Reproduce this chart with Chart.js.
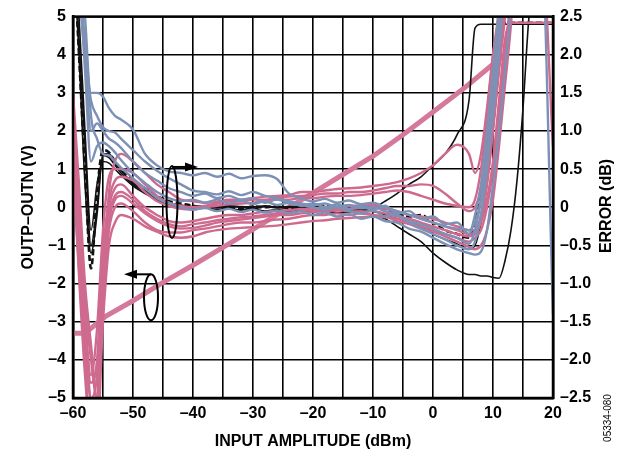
<!DOCTYPE html>
<html>
<head>
<meta charset="utf-8">
<script src="https://cdn.jsdelivr.net/npm/chart.js@4.4.1/dist/chart.umd.min.js"></script>
<style>
  html, body { margin: 0; padding: 0; background: #fff; }
  canvas { display: block; }
</style>
</head>
<body>
<canvas id="chart" width="636" height="456"></canvas>
<script>
// ==================== DATA ====================

// input amplitude grid shared by the error curves (dBm)
const dBm = [-60, -59, -58, -57, -56, -55, -54, -53, -52, -50,
             -48, -46, -44, -42, -40, -38, -36, -34, -32, -30,
             -28, -26, -24, -22, -20, -18, -16, -14, -12, -10,
             -8, -6, -4, -2, 0, 2, 4, 6, 7, 8,
             9, 10, 11, 12, 13, 14, 15, 16, 18, 20];

// error curves (dB), right axis
const blueA = [3.5, 3.0, 2.2, 1.5, 1.5, 1.45, 1.3, 1.2, 1.15, 1.02,
               0.7, 0.55, 0.47, 0.45, 0.42, 0.45, 0.4, 0.44, 0.38, 0.41,
               0.42, 0.37, 0.18, 0.12, 0.08, 0.11, 0.06, 0.09, 0.04, 0.06,
               0.0, -0.05, -0.1, -0.15, -0.2, -0.25, -0.28, -0.3, -0.2, 0.1,
               0.6, 1.2, 2.0, 3.0, 3.5, 3.5, 3.5, 3.5, 3.5, 3.5];
const blueB = [3.5, 2.8, 2.0, 1.4, 1.2, 1.05, 1.0, 0.98, 0.9, 0.75,
               0.6, 0.48, 0.38, 0.3, 0.22, 0.2, 0.17, 0.21, 0.16, 0.2,
               0.15, 0.12, 0.08, 0.05, 0.03, 0.05, 0.01, 0.03, -0.01, 0.0,
               -0.05, -0.1, -0.2, -0.28, -0.35, -0.42, -0.5, -0.55, -0.45, -0.1,
               0.5, 1.3, 2.2, 3.0, 3.5, 3.5, 3.5, 3.5, 3.5, -1.4];
const blueC = [3.5, 3.0, 1.8, 0.6, 0.8, 0.85, 0.8, 0.72, 0.62, 0.45,
               0.32, 0.2, 0.12, 0.08, 0.1, 0.06, 0.1, 0.05, 0.09, 0.04,
               0.08, 0.03, 0.06, 0.02, 0.05, 0.0, 0.04, -0.02, 0.02, -0.03,
               0.02, -0.08, -0.05, -0.15, -0.12, -0.22, -0.2, -0.35, -0.1, 0.3,
               1.0, 1.8, 2.6, 3.5, 3.5, 3.5, 3.5, 3.5, 3.5, 3.5];
const blueD = [3.5, 3.2, 2.5, 1.2, 0.9, 0.7, 0.68, 0.6, 0.52, 0.38,
               0.25, 0.12, 0.05, 0.0, -0.03, -0.01, -0.05, -0.02, -0.06, -0.03,
               -0.07, -0.04, -0.08, -0.05, -0.1, -0.07, -0.12, -0.09, -0.15, -0.12,
               -0.18, -0.2, -0.28, -0.32, -0.4, -0.48, -0.55, -0.6, -0.62, -0.58,
               -0.3, 0.3, 1.0, 1.8, 2.6, 3.5, 3.5, 3.5, 3.5, 3.5];
const blueE = [3.5, 3.0, 2.0, 1.0, 1.1, 1.0, 0.9, 0.85, 0.78, 0.6,
               0.45, 0.35, 0.25, 0.2, 0.15, 0.18, 0.12, 0.15, 0.1, 0.12,
               0.06, 0.1, 0.05, 0.03, 0.0, -0.03, 0.0, -0.05, -0.08, -0.04,
               -0.12, -0.1, -0.18, -0.22, -0.28, -0.35, -0.4, -0.48, -0.3, 0.1,
               0.7, 1.5, 2.3, 3.5, 3.5, 3.5, 3.5, 3.5, 3.5, 3.5];

const pinkA = [1.3, 0.0, -1.2, -2.0, -2.5, -1.0, 0.2, 0.6, 0.7, 0.6,
               0.45, 0.3, 0.2, 0.1, 0.08, 0.06, 0.07, 0.1, 0.1, 0.12,
               0.14, 0.15, 0.16, 0.2, 0.2, 0.22, 0.24, 0.25, 0.26, 0.28,
               0.3, 0.33, 0.38, 0.45, 0.55, 0.7, 0.82, 0.7, 0.45, 0.7,
               1.3, 2.0, 2.6, 3.5, 3.5, 3.5, 3.5, 3.5, 3.5, 3.5];
const pinkB = [1.0, -0.2, -1.5, -2.3, -2.0, -0.6, 0.1, 0.35, 0.4, 0.35,
               0.2, 0.08, 0.02, -0.02, -0.03, 0.0, 0.02, 0.04, 0.05, 0.06,
               0.08, 0.1, 0.1, 0.12, 0.12, 0.14, 0.15, 0.15, 0.16, 0.18,
               0.2, 0.22, 0.2, 0.15, 0.1, 0.05, 0.02, 0.0, 0.1, 0.5,
               1.2, 2.0, 2.5, 3.5, 3.5, 3.5, 3.5, 3.5, 3.5, 0.8];
const pinkC = [0.5, -0.8, -2.0, -3.0, -3.0, -1.5, -0.5, -0.2, -0.1, -0.15,
               -0.25, -0.32, -0.38, -0.4, -0.38, -0.33, -0.3, -0.28, -0.27, -0.26,
               -0.25, -0.24, -0.22, -0.2, -0.18, -0.17, -0.15, -0.14, -0.13, -0.12,
               -0.13, -0.15, -0.2, -0.25, -0.3, -0.35, -0.4, -0.45, -0.4, -0.3,
               0.0, 0.5, 1.2, 2.0, 2.8, 3.5, 3.5, 3.5, 3.5, 3.5];
const pinkD = [0.8, -0.5, -1.8, -2.5, -2.2, -0.8, 0.0, 0.25, 0.3, 0.15,
               0.0, -0.1, -0.18, -0.2, -0.18, -0.15, -0.12, -0.1, -0.1, -0.08,
               -0.06, -0.05, -0.04, -0.02, -0.02, 0.0, 0.0, 0.02, 0.02, 0.03,
               0.0, -0.05, -0.1, -0.12, -0.15, -0.2, -0.25, -0.3, -0.3, -0.15,
               0.3, 1.0, 1.8, 2.5, 3.5, 3.5, 3.5, 3.5, 3.5, 3.5];
const pinkE = [1.5, 0.3, -1.0, -1.8, -2.5, -1.2, -0.2, 0.1, 0.15, 0.05,
               -0.08, -0.18, -0.25, -0.28, -0.27, -0.24, -0.2, -0.18, -0.16, -0.14,
               -0.12, -0.1, -0.1, -0.08, -0.06, -0.05, -0.04, -0.05, -0.06, -0.05,
               -0.08, -0.12, -0.15, -0.2, -0.25, -0.3, -0.35, -0.38, -0.35, -0.2,
               0.1, 0.6, 1.4, 2.2, 2.42, 2.42, 2.42, 2.42, 2.42, 2.42];
const pinkF = [1.0, -0.3, -1.6, -2.6, -2.8, -1.2, -0.3, 0.0, 0.05, -0.05,
               -0.2, -0.3, -0.33, -0.33, -0.3, -0.28, -0.25, -0.22, -0.2, -0.2,
               -0.18, -0.16, -0.15, -0.12, -0.1, -0.1, -0.08, -0.1, -0.08, -0.1,
               -0.12, -0.18, -0.22, -0.28, -0.32, -0.38, -0.45, -0.52, -0.55, -0.5,
               -0.3, 0.1, 0.8, 1.6, 2.4, 3.5, 3.5, 3.5, 3.5, 3.5];
const pinkG = [1.2, 0.0, -1.4, -2.2, -1.6, -0.3, 0.4, 0.5, 0.5, 0.45,
               0.3, 0.15, 0.06, 0.02, 0.0, 0.02, 0.05, 0.08, 0.08, 0.1,
               0.1, 0.12, 0.14, 0.15, 0.16, 0.18, 0.18, 0.2, 0.2, 0.22,
               0.25, 0.28, 0.28, 0.3, 0.28, 0.18, 0.05, -0.05, 0.0, 0.25,
               0.8, 1.6, 2.4, 3.5, 3.5, 3.5, 3.5, 3.5, 3.5, 3.5];
const pinkH = [0.6, -0.9, -2.2, -3.0, -2.6, -0.9, -0.1, 0.15, 0.2, 0.1,
               -0.05, -0.15, -0.22, -0.25, -0.22, -0.2, -0.17, -0.15, -0.13, -0.12,
               -0.1, -0.08, -0.07, -0.05, -0.04, -0.03, -0.02, -0.02, -0.01, 0.0,
               -0.02, -0.06, -0.1, -0.15, -0.2, -0.25, -0.3, -0.35, -0.32, -0.1,
               0.4, 1.1, 1.9, 2.7, 3.5, 3.5, 3.5, 3.5, 3.5, 3.5];

const blackA = [3.5, 2.0, 0.5, -0.8, 0.2, 0.75, 0.72, 0.6, 0.5, 0.35,
                0.25, 0.15, 0.08, 0.05, 0.02, 0.0, 0.02, 0.0, -0.02, 0.01,
                0.0, 0.02, -0.01, 0.01, 0.0, 0.02, -0.01, 0.0, -0.01, 0.02,
                -0.02, -0.08, -0.12, -0.1, -0.2, -0.3, -0.35, -0.4, -0.2, 0.2,
                0.9, 1.8, 2.42, 2.42, 2.42, 2.42, 2.42, 2.42, 2.42, 2.42];
const blackB = [3.5, 2.2, 0.8, -0.5, 0.0, 0.68, 0.65, 0.55, 0.45, 0.3,
                0.2, 0.1, 0.05, 0.02, 0.0, 0.01, -0.01, 0.01, 0.0, -0.02,
                0.01, -0.01, 0.0, -0.02, -0.01, -0.03, -0.02, -0.04, -0.03, -0.05,
                -0.1, -0.15, -0.18, -0.25, -0.35, -0.42, -0.48, -0.55, -0.5, -0.2,
                0.3, 1.0, 1.8, 2.6, 3.5, 3.5, 3.5, 3.5, 3.5, 3.5];
const blackC = [3.5, 2.5, 1.0, -0.3, 0.3, 0.6, 0.58, 0.5, 0.42, 0.28,
                0.18, 0.1, 0.04, 0.0, -0.02, 0.0, -0.03, -0.01, -0.04, -0.02,
                -0.05, -0.03, -0.06, -0.04, -0.06, -0.05, -0.07, -0.06, -0.08, -0.1,
                -0.15, -0.25, -0.35, -0.45, -0.6, -0.72, -0.82, -0.88, -0.88, -0.9,
                -0.9, -0.92, -0.93, -0.7, -0.3, 0.35, 1.3, 2.5, 3.5, 3.5];
const blackD = [3.5, 2.0, 0.3, -0.6, -0.1, 0.7, 0.7, 0.58, 0.48, 0.32,
                0.22, 0.12, 0.06, 0.03, 0.01, 0.02, 0.0, 0.02, 0.01, 0.0,
                0.02, 0.0, 0.01, 0.0, 0.02, 0.01, 0.0, 0.02, 0.0, 0.0,
                0.08, 0.18, 0.3, 0.4, 0.55, 0.7, 0.95, 1.4, 2.35, 2.4,
                2.4, 2.4, 2.4, 2.4, 2.4, 2.4, 2.4, 2.4, 2.4, 2.4];

// transfer function OUTP-OUTN (V), left axis
const outX = [-60, -58, -54.5, -50, -45, -40, -35, -30, -25, -20, -15, -10, -5, 0, 5, 10, 12];
const outV = [-3.3, -3.3, -2.85, -2.45, -1.97, -1.52, -1.05, -0.58, -0.1, 0.38, 0.86, 1.34, 1.9, 2.5, 3.1, 3.75, 4.0];

// tick values
const xTicks = [-60, -50, -40, -30, -20, -10, 0, 10, 20];

// ==================== STYLE ====================

const BLUE = '#7d91b6';
const PINK = '#cf6a8f';
const BLACK = '#111111';
const FONT = "'Liberation Sans', Arial, Helvetica, sans-serif";

function dash(v) {
    return v < 0 ? '\u2013' + Math.abs(v) : String(v);
}

function errorLine(values, color, width, dashPattern) {
    return {
        data: dBm.map((x, i) => ({ x: x, y: values[i] })),
        yAxisID: 'yErr',
        borderColor: color,
        borderWidth: width,
        borderDash: dashPattern || [],
        pointRadius: 0,
        cubicInterpolationMode: 'monotone',
        fill: false
    };
}

function outLine(color, width) {
    return {
        data: outX.map((x, i) => ({ x: x, y: outV[i] })),
        yAxisID: 'y',
        borderColor: color,
        borderWidth: width,
        pointRadius: 0,
        tension: 0,
        fill: false
    };
}

const datasets = [
    errorLine(blueA, BLUE, 2.4),
    errorLine(blueB, BLUE, 2.4),
    errorLine(blueC, BLUE, 2.4),
    errorLine(blueD, BLUE, 2.4),
    errorLine(blueE, BLUE, 2.4),
    errorLine(pinkA, PINK, 2.4),
    errorLine(pinkB, PINK, 2.4),
    errorLine(pinkC, PINK, 2.4),
    errorLine(pinkD, PINK, 2.4),
    errorLine(pinkE, PINK, 2.4),
    errorLine(pinkF, PINK, 2.4),
    errorLine(pinkG, PINK, 2.4),
    errorLine(pinkH, PINK, 2.4),
    errorLine(blackB, BLACK, 1.6),
    errorLine(blackC, BLACK, 1.6),
    errorLine(blackD, BLACK, 1.6),
    errorLine(blackA, BLACK, 2.6, [6, 3]),
    outLine('#d4799b', 5),
    outLine(BLUE, 1.8),
    outLine('#333', 0.8)
];

// ==================== ANNOTATIONS ====================

function arrow(ctx, x1, y, x2) {
    const dir = x2 > x1 ? 1 : -1;
    ctx.beginPath();
    ctx.moveTo(x1, y);
    ctx.lineTo(x2 - dir * 10, y);
    ctx.stroke();
    ctx.beginPath();
    ctx.moveTo(x2, y);
    ctx.lineTo(x2 - dir * 13, y - 4.5);
    ctx.lineTo(x2 - dir * 13, y + 4.5);
    ctx.closePath();
    ctx.fill();
}

const decorations = {
    id: 'decorations',
    afterDatasetsDraw(chart) {
        const { ctx, chartArea, scales } = chart;
        ctx.save();
        ctx.strokeStyle = '#000';
        ctx.fillStyle = '#000';
        ctx.lineWidth = 2;

        // ellipse marking the error curves -> right axis
        const e1x = scales.x.getPixelForValue(-43.5);
        const e1y = scales.yErr.getPixelForValue(0.07);
        ctx.beginPath();
        ctx.ellipse(e1x, e1y, 5.5, 36, 0, 0, Math.PI * 2);
        ctx.stroke();
        arrow(ctx, e1x, e1y - 35, e1x + 26);

        // ellipse marking the output line -> left axis
        const e2x = scales.x.getPixelForValue(-47);
        const e2y = scales.y.getPixelForValue(-2.36);
        ctx.beginPath();
        ctx.ellipse(e2x, e2y, 7, 23, 0, 0, Math.PI * 2);
        ctx.stroke();
        arrow(ctx, e2x, e2y - 23, e2x - 27);

        // plot frame
        ctx.lineWidth = 2.5;
        ctx.strokeRect(chartArea.left, chartArea.top,
                       chartArea.right - chartArea.left, chartArea.bottom - chartArea.top);
        ctx.restore();
    },
    afterDraw(chart) {
        const ctx = chart.ctx;
        ctx.save();
        ctx.fillStyle = '#000';
        ctx.textAlign = 'center';
        ctx.textBaseline = 'middle';

        ctx.save();
        ctx.translate(607, 206);
        ctx.rotate(-Math.PI / 2);
        ctx.font = 'bold 16px ' + FONT;
        ctx.fillText('ERROR (dB)', 0, 0);
        ctx.restore();

        ctx.save();
        ctx.translate(608, 418);
        ctx.rotate(-Math.PI / 2);
        ctx.font = '10px ' + FONT;
        ctx.fillText('05334-080', 0, 0);
        ctx.restore();

        ctx.restore();
    }
};

// ==================== CHART ====================

const tickFont = { family: FONT, size: 16, weight: 'bold' };
const titleFont = { family: FONT, size: 16, weight: 'bold' };

new Chart(document.getElementById('chart').getContext('2d'), {
    type: 'line',
    data: { datasets: datasets },
    options: {
        responsive: false,
        animation: false,
        layout: { padding: { top: 15, left: 0, right: 0, bottom: 0 } },
        plugins: {
            legend: { display: false },
            tooltip: { enabled: false }
        },
        scales: {
            x: {
                type: 'linear',
                min: -60,
                max: 20,
                ticks: {
                    stepSize: 5,
                    autoSkip: false,
                    maxRotation: 0,
                    color: '#000',
                    font: tickFont,
                    padding: 6,
                    callback: v => xTicks.includes(v) ? dash(v) : ''
                },
                grid: { color: '#000', lineWidth: 1.6, drawTicks: false },
                border: { color: '#000', width: 2.5 },
                title: {
                    display: true,
                    text: 'INPUT AMPLITUDE (dBm)',
                    color: '#000',
                    font: titleFont,
                    padding: { top: 0, bottom: 5 }
                },
                afterFit: s => { s.height = 58; }
            },
            y: {
                position: 'left',
                min: -5,
                max: 5,
                ticks: {
                    stepSize: 1,
                    color: '#000',
                    font: tickFont,
                    padding: 7,
                    callback: v => dash(v)
                },
                grid: { color: '#000', lineWidth: 1.6, drawTicks: false },
                border: { color: '#000', width: 2.5 },
                title: {
                    display: true,
                    text: 'OUTP\u2013OUTN (V)',
                    color: '#000',
                    font: titleFont,
                    padding: { top: 19, bottom: 0 }
                },
                afterFit: s => { s.width = 73; }
            },
            yErr: {
                position: 'right',
                min: -2.5,
                max: 2.5,
                ticks: {
                    stepSize: 0.5,
                    color: '#000',
                    font: tickFont,
                    padding: 7,
                    callback: v => v === 0 ? '0' : (v < 0 ? '\u2013' : '') + Math.abs(v).toFixed(1)
                },
                grid: { drawOnChartArea: false, drawTicks: false },
                border: { color: '#000', width: 2.5 },
                afterFit: s => { s.width = 83; }
            }
        }
    },
    plugins: [decorations]
});
</script>
</body>
</html>
